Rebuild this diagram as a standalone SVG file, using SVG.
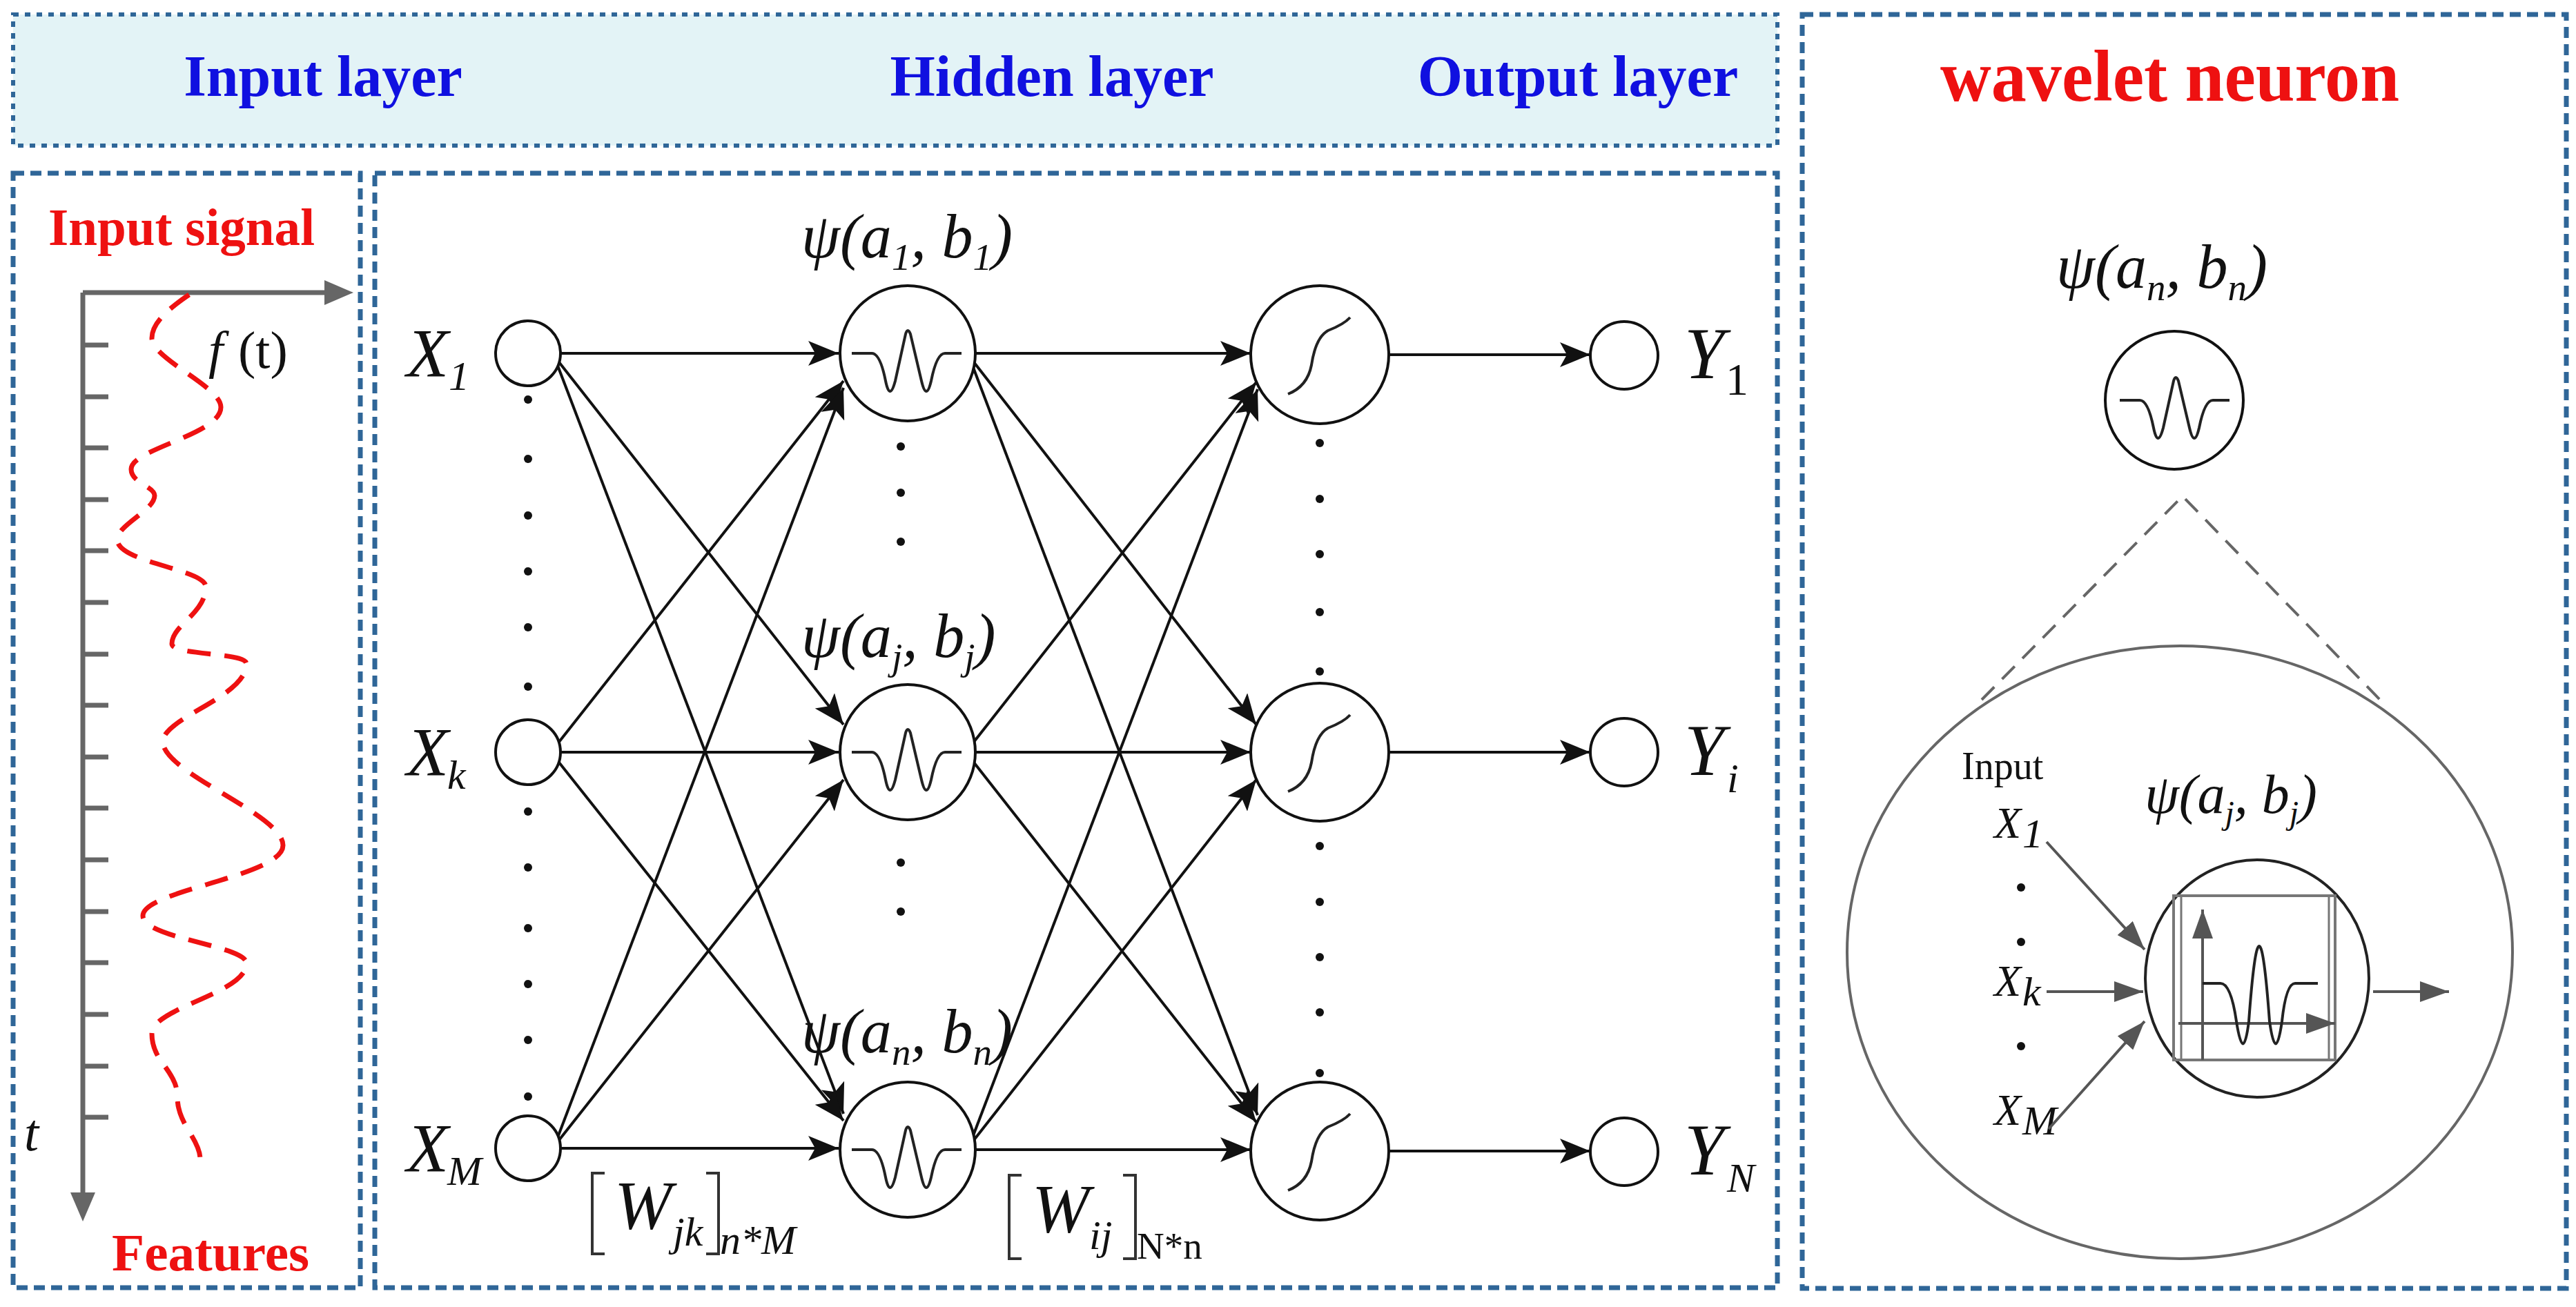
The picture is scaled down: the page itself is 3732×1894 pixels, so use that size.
<svg xmlns="http://www.w3.org/2000/svg" width="3732" height="1894" viewBox="0 0 3732 1894">
<style>
.box{fill:none;stroke:#2f6698;stroke-width:7;stroke-dasharray:16 9}
.hdr{font-family:"Liberation Serif",serif;font-weight:bold;font-size:84px;fill:#1010e0;text-anchor:middle}
.red{font-family:"Liberation Serif",serif;font-weight:bold;fill:#ee1111}
.m{font-family:"Liberation Serif",serif;font-style:italic;fill:#111}
.sub{font-family:"Liberation Serif",serif;font-style:italic;font-size:60px;fill:#111}
.nd{fill:#fff;stroke:#111;stroke-width:4}
.e{stroke:#111;stroke-width:4;fill:none;marker-end:url(#ah)}
.w{fill:none;stroke:#222;stroke-width:4}
.g{stroke:#555;stroke-width:4;fill:none}
</style>
<defs>
<marker id="ah" markerUnits="userSpaceOnUse" markerWidth="46" markerHeight="36" refX="44" refY="18" orient="auto"><path d="M0 0 L44 18 L0 36 L10 18 Z" fill="#111"/></marker>
<marker id="gh" markerUnits="userSpaceOnUse" markerWidth="44" markerHeight="30" refX="42" refY="15" orient="auto"><path d="M0 0 L42 15 L0 30 Z" fill="#555"/></marker>
<path id="wav" d="M-81 0 H-52 Q-40 0 -32 40 Q-26 70 -18 40 L-3 -28 Q0 -38 4 -28 L20 40 Q27 70 34 40 Q42 0 54 0 H78" class="w"/>
<path id="sig" d="M-46 57 Q-18 46 -12 15 Q-6 -25 12 -35 Q35 -44 44 -54" class="w"/>
</defs>

<!-- frames -->
<rect x="19" y="21" width="2556" height="190" fill="#e3f3f6" stroke="#2f6698" stroke-width="6" stroke-dasharray="8 9"/>
<rect x="19" y="251" width="503" height="1615" class="box"/>
<rect x="543" y="251" width="2032" height="1615" class="box"/>
<rect x="2611" y="21" width="1107" height="1846" class="box"/>
<text class="hdr" x="468" y="139">Input layer</text>
<text class="hdr" x="1524" y="139">Hidden layer</text>
<text class="hdr" x="2286" y="139">Output layer</text>
<text class="red" x="2811" y="146" font-size="106" textLength="665" lengthAdjust="spacingAndGlyphs">wavelet neuron</text>

<!-- input signal panel -->
<g id="signal">
<text class="red" x="70" y="355" font-size="76" textLength="386" lengthAdjust="spacingAndGlyphs">Input signal</text>
<text class="red" x="162" y="1841" font-size="76" textLength="286" lengthAdjust="spacingAndGlyphs">Features</text>
<path d="M120 424 H480" stroke="#666" stroke-width="7"/><path d="M470 406 L512 424 L470 442 Z" fill="#666"/>
<path d="M120 424 V1735" stroke="#666" stroke-width="7"/><path d="M102 1728 L120 1770 L138 1728 Z" fill="#666"/>
<path d="M120 500h37M120 575h37M120 649h37M120 724h37M120 798h37M120 873h37M120 948h37M120 1022h37M120 1097h37M120 1171h37M120 1246h37M120 1321h37M120 1395h37M120 1470h37M120 1545h37M120 1619h37" stroke="#666" stroke-width="7"/>
<path d="M274 427 C240 450 220 470 220 490 C220 520 320 560 320 590 C320 630 190 650 190 680 C190 700 224 705 224 718 C224 740 170 760 170 782 C170 815 298 825 298 850 C298 890 249 905 249 933 C249 950 357 945 357 962 C357 1010 236 1040 236 1075 C236 1120 410 1180 410 1225 C410 1270 207 1290 207 1327 C207 1360 357 1370 357 1396 C357 1440 220 1460 220 1498 C220 1540 257 1550 257 1590 C257 1630 290 1650 290 1680" fill="none" stroke="#ee1111" stroke-width="7" stroke-dasharray="34 20"/>
<text class="m" x="302" y="533" font-size="76">f</text><text x="345" y="533" font-family="Liberation Serif,serif" font-size="76" fill="#111">(t)</text>
<text class="m" x="35" y="1667" font-size="76">t</text>
</g>

<!-- connectors -->
<g id="edges">
<path class="e" d="M812 512 H1215"/>
<path class="e" d="M810 525 L1222 1050"/>
<path class="e" d="M808 530 L1222 1614"/>
<path class="e" d="M810 1075 L1222 552"/>
<path class="e" d="M812 1090 H1215"/>
<path class="e" d="M810 1105 L1222 1624"/>
<path class="e" d="M808 1648 L1222 562"/>
<path class="e" d="M810 1652 L1222 1130"/>
<path class="e" d="M812 1664 H1215"/>
<path class="e" d="M1413 512 H1812"/>
<path class="e" d="M1411 525 L1820 1050"/>
<path class="e" d="M1409 530 L1822 1616"/>
<path class="e" d="M1411 1075 L1820 554"/>
<path class="e" d="M1413 1090 H1812"/>
<path class="e" d="M1411 1105 L1820 1626"/>
<path class="e" d="M1409 1648 L1822 564"/>
<path class="e" d="M1411 1652 L1820 1130"/>
<path class="e" d="M1413 1666 H1812"/>
<path class="e" d="M2012 514 H2304"/>
<path class="e" d="M2012 1090 H2304"/>
<path class="e" d="M2012 1668 H2304"/>
</g>

<!-- dots -->
<g id="dots" fill="#111">
<circle cx="765" cy="579" r="6"/><circle cx="765" cy="665" r="6"/><circle cx="765" cy="747" r="6"/><circle cx="765" cy="828" r="6"/><circle cx="765" cy="909" r="6"/><circle cx="765" cy="995" r="6"/>
<circle cx="765" cy="1176" r="6"/><circle cx="765" cy="1257" r="6"/><circle cx="765" cy="1345" r="6"/><circle cx="765" cy="1426" r="6"/><circle cx="765" cy="1507" r="6"/><circle cx="765" cy="1589" r="6"/>
<circle cx="1305" cy="540" r="5"/><circle cx="1305" cy="647" r="6"/><circle cx="1305" cy="714" r="6"/><circle cx="1305" cy="785" r="6"/>
<circle cx="1305" cy="1183" r="6"/><circle cx="1305" cy="1250" r="6"/><circle cx="1305" cy="1321" r="6"/>
<circle cx="1912" cy="554" r="5"/><circle cx="1912" cy="642" r="6"/><circle cx="1912" cy="723" r="6"/><circle cx="1912" cy="803" r="6"/><circle cx="1912" cy="887" r="6"/><circle cx="1912" cy="973" r="6"/>
<circle cx="1912" cy="1130" r="5"/><circle cx="1912" cy="1226" r="6"/><circle cx="1912" cy="1307" r="6"/><circle cx="1912" cy="1387" r="6"/><circle cx="1912" cy="1467" r="6"/><circle cx="1912" cy="1555" r="6"/>
</g>

<!-- input nodes -->
<g id="x1"><circle class="nd" cx="765" cy="512" r="47"/><text class="m" x="589" y="545" font-size="100">X</text><text class="sub" x="650" y="565" font-style="normal">1</text></g>
<g id="xk"><circle class="nd" cx="765" cy="1090" r="47"/><text class="m" x="589" y="1123" font-size="100">X</text><text class="sub" x="648" y="1143">k</text></g>
<g id="xm"><circle class="nd" cx="765" cy="1664" r="47"/><text class="m" x="589" y="1697" font-size="100">X</text><text class="sub" x="648" y="1717">M</text></g>

<!-- hidden nodes -->
<g id="h1"><circle class="nd" cx="1315" cy="512" r="98"/><use href="#wav" x="1315" y="512"/>
<text class="m" x="1161" y="373" font-size="90">ψ(a<tspan font-size="55" dy="18">1</tspan><tspan dy="-18">, b</tspan><tspan font-size="55" dy="18">1</tspan><tspan dy="-18">)</tspan></text></g>
<g id="hj"><circle class="nd" cx="1315" cy="1090" r="98"/><use href="#wav" x="1315" y="1090"/>
<text class="m" x="1161" y="952" font-size="90">ψ(a<tspan font-size="55" dy="18">j</tspan><tspan dy="-18">, b</tspan><tspan font-size="55" dy="18">j</tspan><tspan dy="-18">)</tspan></text></g>
<g id="hn"><circle class="nd" cx="1315" cy="1666" r="98"/><use href="#wav" x="1315" y="1666"/>
<text class="m" x="1161" y="1525" font-size="90">ψ(a<tspan font-size="55" dy="18">n</tspan><tspan dy="-18">, b</tspan><tspan font-size="55" dy="18">n</tspan><tspan dy="-18">)</tspan></text></g>

<!-- output nodes -->
<g id="s1"><circle class="nd" cx="1912" cy="514" r="100"/><use href="#sig" x="1912" y="514"/></g>
<g id="si"><circle class="nd" cx="1912" cy="1090" r="100"/><use href="#sig" x="1912" y="1090"/></g>
<g id="sn"><circle class="nd" cx="1912" cy="1668" r="100"/><use href="#sig" x="1912" y="1668"/></g>
<g id="y1"><circle class="nd" cx="2353" cy="515" r="49"/><text class="m" x="2440" y="548" font-size="105">Y</text><text x="2500" y="572" font-family="Liberation Serif,serif" font-size="66" fill="#111">1</text></g>
<g id="yi"><circle class="nd" cx="2353" cy="1090" r="49"/><text class="m" x="2440" y="1123" font-size="105">Y</text><text class="sub" x="2502" y="1148">i</text></g>
<g id="yn"><circle class="nd" cx="2353" cy="1669" r="49"/><text class="m" x="2440" y="1702" font-size="105">Y</text><text class="sub" x="2502" y="1727">N</text></g>

<!-- weight labels -->
<g id="wjk">
<path d="M876 1700 H858 V1817 H876 M1023 1700 H1041 V1817 H1023" fill="none" stroke="#333" stroke-width="4"/>
<text class="m" x="890" y="1780" font-size="100">W</text><text class="sub" x="975" y="1805" font-size="55">jk</text>
<text class="sub" x="1043" y="1817" font-size="55">n*M</text>
</g>
<g id="wij">
<path d="M1480 1703 H1462 V1824 H1480 M1627 1703 H1645 V1824 H1627" fill="none" stroke="#333" stroke-width="4"/>
<text class="m" x="1495" y="1785" font-size="100">W</text><text class="sub" x="1578" y="1810" font-size="55">ij</text>
<text x="1647" y="1824" font-family="Liberation Serif,serif" font-size="55" fill="#111">N*n</text>
</g>

<!-- wavelet neuron detail -->
<g id="wn">
<text class="m" x="3132" y="417" font-size="90" text-anchor="middle">ψ(a<tspan font-size="55" dy="18">n</tspan><tspan dy="-18">, b</tspan><tspan font-size="55" dy="18">n</tspan><tspan dy="-18">)</tspan></text>
<circle class="nd" cx="3150" cy="580" r="100"/><use href="#wav" x="3152" y="580"/>
<path d="M2871 1014 L3162 719 L3448 1014" fill="none" stroke="#666" stroke-width="4" stroke-dasharray="26 16"/>
<ellipse cx="3158" cy="1380" rx="482" ry="444" fill="none" stroke="#666" stroke-width="4"/>
<text x="2842" y="1129" font-family="Liberation Serif,serif" font-size="56" fill="#111">Input</text>
<text class="m" x="3232" y="1178" font-size="80" text-anchor="middle">ψ(a<tspan font-size="48" dy="16">j</tspan><tspan dy="-16">, b</tspan><tspan font-size="48" dy="16">j</tspan><tspan dy="-16">)</tspan></text>
<text class="m" x="2889" y="1214" font-size="64">X</text><text class="sub" x="2930" y="1228" font-size="40" font-style="normal">1</text>
<text class="m" x="2889" y="1443" font-size="64">X</text><text class="sub" x="2930" y="1457" font-size="40">k</text>
<text class="m" x="2889" y="1630" font-size="64">X</text><text class="sub" x="2930" y="1644" font-size="40">M</text>
<circle cx="2928" cy="1286" r="6" fill="#111"/><circle cx="2928" cy="1365" r="6" fill="#111"/><circle cx="2928" cy="1516" r="6" fill="#111"/>
<path class="g" d="M2965 1220 L3107 1376" marker-end="url(#gh)"/>
<path class="g" d="M2965 1437 L3105 1437" marker-end="url(#gh)"/>
<path class="g" d="M2968 1636 L3107 1480" marker-end="url(#gh)"/>
<ellipse cx="3270" cy="1418" rx="162" ry="172" fill="#fff" stroke="#222" stroke-width="4"/>
<path class="g" d="M3438 1437 H3548" marker-end="url(#gh)"/>
<rect x="3149" y="1298" width="234" height="238" fill="none" stroke="#777" stroke-width="4"/>
<path d="M3160 1298 V1536 M3374 1298 V1536" stroke="#777" stroke-width="3"/>
<path class="g" d="M3191 1536 V1318" marker-end="url(#gh)"/>
<path class="g" d="M3156 1483 H3383" marker-end="url(#gh)"/>
<path d="M3191 1425 H3217 Q3232 1425 3240 1480 Q3250 1545 3258 1480 Q3266 1371 3273 1371 Q3280 1371 3288 1480 Q3297 1545 3306 1480 Q3312 1425 3325 1425 H3358" fill="none" stroke="#222" stroke-width="4"/>
</g>
</svg>
